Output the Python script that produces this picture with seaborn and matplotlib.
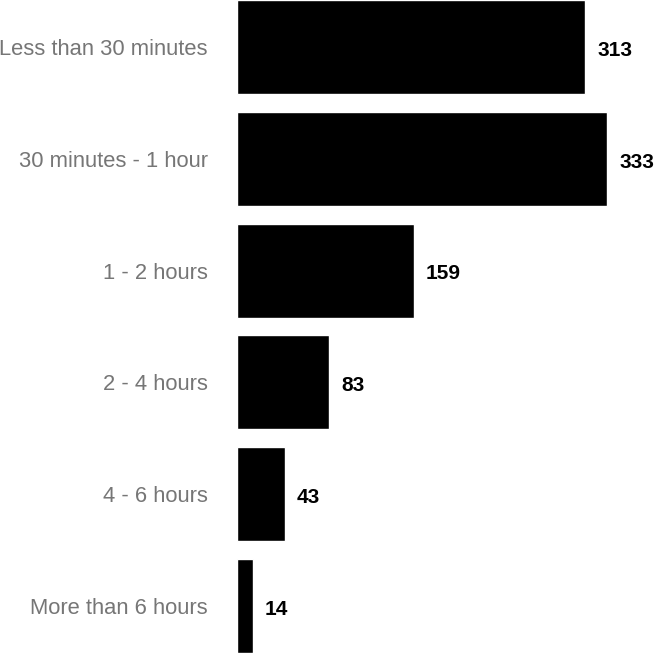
import matplotlib
matplotlib.use("Agg")
import matplotlib.pyplot as plt
import seaborn as sns
import pandas as pd

categories = ["Less than 30 minutes", "30 minutes - 1 hour", "1 - 2 hours",
              "2 - 4 hours", "4 - 6 hours", "More than 6 hours"]
values = [313, 333, 159, 83, 43, 14]

df = pd.DataFrame({"category": categories, "value": values})

sns.set_style("white")
plt.rcParams['font.family'] = ['Liberation Sans', 'DejaVu Sans']

fig = plt.figure(figsize=(6.56, 6.53), dpi=100)
ax = fig.add_axes([237/656, 0, 1 - 237/656, 1])
sns.barplot(data=df, x="value", y="category", color="black", width=0.84,
            saturation=1, ax=ax, orient="h")
ax.set_xlim(0, 377)
ax.set_ylim(5.42, -0.42)
for i, v in enumerate(values):
    ax.text(v + 11, i + 0.03, str(v), va="center", ha="left", fontsize=15,
            fontweight="bold", color="black")
ax.set_xlabel("")
ax.set_ylabel("")
ax.set_xticks([])
ax.tick_params(axis="y", length=0, pad=21, labelsize=15.8, labelcolor="#767676")
for s in ax.spines.values():
    s.set_visible(False)
fig.savefig("out.png", dpi=100)
